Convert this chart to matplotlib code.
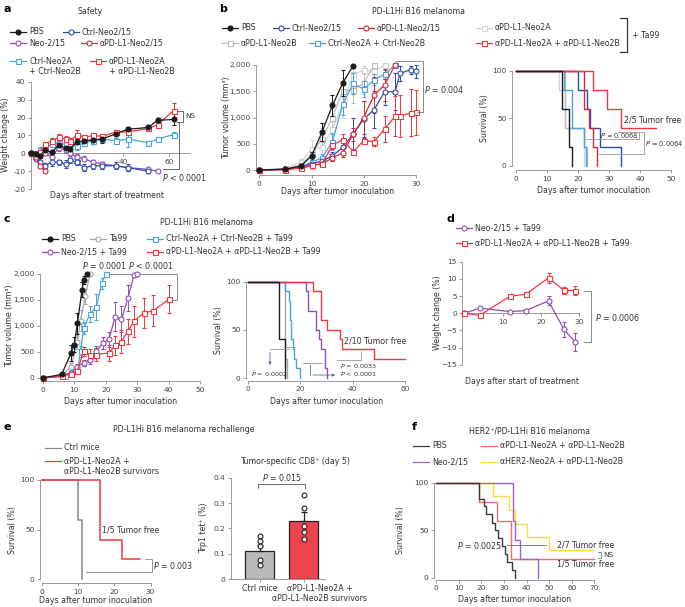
import matplotlib
matplotlib.use('Agg')
import matplotlib.pyplot as plt
from matplotlib.lines import Line2D
from matplotlib.ticker import FuncFormatter

plt.rcParams['font.family'] = ['DejaVu Sans']
plt.rcParams['mathtext.fontset'] = 'dejavusans'

W, H = 685, 607
FT = 5.3   # tick labels
FL = 5.7   # labels, legends, titles

BLACK = '#1c1c1c'
DBLUE = '#2f4ca6'
PURPLE = '#8f4fb3'
DRED = '#d22a36'
LBLUE = '#4aa3e0'
RED = '#f0373f'
LGRAY = '#d2d2d2'
GRAY = '#bcbcbc'
TAGRAY = '#a6a6a6'

# ---------------- panel a : weight change ----------------
a_days = [0, 2, 4, 6, 9, 12, 15, 17, 20, 23, 27, 31, 37, 42, 51, 55, 62]
a_pbs = [0, -0.5, -1.5, 2, 0.5, 4.5, 3, 2.5, 6.5, 7, 7.5, 8, 11, 13.5, 14.5, 18.5, 19]
a_pbs_e = [0.5, 1, 1, 1.5, 1, 1.5, 1.5, 1.5, 1.5, 1.5, 2, 2, 1, 1, 1, 1.5, 3]
a_pdab = [0, 0, 1, 5, 7, 9, 8, 7, 10.5, 9, 10, 9.5, 12, 12, 14, 16, 24]
a_pdab_e = [0.5, 1, 1, 1.5, 1.5, 2, 1.5, 1.5, 2.5, 1.5, 1.5, 1.5, 1, 1, 1, 1.5, 4.5]
a_ctrlab = [0, -1, 2, 3.5, 5, 6, 5, 6, 4, 6, 7, 8, 7, 8, 6, 8, 10.5]
a_ctrlab_e = [0.5, 1, 1.5, 1.5, 1.5, 2, 1.5, 1.5, 2, 1.5, 1.5, 1.5, 1.5, 4.5, 1, 1, 1.5]
a_neo = [0, -2, -1, 0, -2, 3, 2, 0, -2, -3, -5, -6, -7, -8, -9, -10]
a_neo_e = [0.5, 1, 1, 1, 1, 1.5, 1.5, 1.5, 1.5, 1.5, 1.5, 1, 1, 1, 1, 0.5]
a_ctrl215 = [0, -3, -5, -7, -5, -5, -6, -4, -5, -8, -7, -7, -7, -8, -10]
a_ctrl215_e = [0.5, 1, 1.5, 1.5, 2, 1.5, 2, 1.5, 1.5, 2, 2, 2, 2, 2, 1]
a_pd215 = [0, -2, -7, -10]
a_pd215_e = [0.5, 1, 1, 1]

# ---------------- panel b : tumor volume ----------------
b_pbs_d = [0, 5, 8, 10, 12, 14, 16, 18]
b_pbs = [0, 15, 80, 270, 720, 1230, 1660, 1990]
b_pbs_e = [0, 20, 40, 70, 170, 200, 250, 0]
b_n2a_d = [0, 5, 8, 10, 12, 14, 16, 18, 20, 22, 24]
b_n2a = [0, 30, 150, 400, 430, 780, 1250, 1820, 1900, 1880, 2000]
b_n2a_e = [0, 30, 60, 170, 200, 250, 250, 180, 80, 100, 0]
b_n2b_d = [0, 5, 8, 10, 12, 14, 16, 18, 20, 22]
b_n2b = [0, 20, 100, 300, 600, 1000, 1500, 1530, 1650, 2000]
b_n2b_e = [0, 20, 50, 100, 200, 300, 250, 260, 200, 0]
b_ctrlab_d = [0, 5, 8, 10, 12, 14, 16, 18, 20, 22, 24, 26]
b_ctrlab = [0, 20, 60, 150, 230, 540, 1250, 1650, 1540, 1720, 1820, 2000]
b_ctrlab_e = [0, 15, 30, 60, 80, 150, 200, 200, 150, 100, 80, 0]
b_ctrl215_d = [0, 5, 8, 10, 12, 14, 16, 18, 20, 22, 24, 26, 27, 29, 30]
b_ctrl215 = [0, 15, 50, 120, 170, 270, 430, 690, 970, 1150, 1490, 1490, 1840, 1910, 1880]
b_ctrl215_e = [0, 10, 20, 40, 60, 80, 150, 300, 350, 350, 250, 350, 150, 80, 120]
b_pd215_d = [0, 5, 8, 10, 12, 14, 16, 18, 20, 22, 24, 26]
b_pd215 = [0, 10, 40, 80, 120, 230, 330, 680, 1000, 1430, 1620, 2000]
b_pd215_e = [0, 10, 20, 30, 50, 60, 80, 120, 320, 350, 300, 0]
b_pdab_d = [0, 5, 8, 10, 12, 14, 16, 18, 20, 22, 24, 26, 27, 29, 30]
b_pdab = [0, 10, 40, 90, 120, 470, 580, 350, 560, 540, 780, 1020, 1020, 1090, 1100]
b_pdab_e = [0, 10, 20, 30, 40, 60, 100, 50, 50, 80, 250, 380, 400, 450, 430]

# ---------------- panel b : survival ----------------
bs_pbs_t, bs_pbs_s = [0, 15, 17, 18], [100, 60, 20, 0]
bs_n2a_t, bs_n2a_s = [0, 14, 16, 22], [100, 80, 40, 0]
bs_n2b_t, bs_n2b_s = [0, 16, 22, 23], [100, 40, 20, 0]
bs_ctrlab_t, bs_ctrlab_s = [0, 15.5, 18, 22, 22.5], [100, 80, 40, 20, 0]
bs_ctrl215_t, bs_ctrl215_s = [0, 20, 23, 24, 27, 34], [100, 80, 60, 40, 20, 0]
bs_pd215_t, bs_pd215_s = [0, 22, 23.5, 25, 26], [100, 60, 40, 20, 0]
bs_pdab_t, bs_pdab_s = [0, 25, 29.5, 34, 45], [100, 80, 60, 40, 40]

# ---------------- panel c : tumor volume ----------------
c_pbs_d = [0, 6, 9, 10, 11, 12.5, 13, 14]
c_pbs = [0, 70, 480, 640, 1050, 1700, 1880, 2000]
c_pbs_e = [0, 20, 150, 150, 200, 150, 80, 0]
c_ta_d = [0, 6, 9, 11, 12, 13.5, 15]
c_ta = [0, 40, 220, 700, 1100, 1570, 2000]
c_ta_e = [0, 20, 60, 150, 200, 150, 0]
c_ctrl_d = [0, 7, 11, 12, 13, 15, 17, 18.7, 20]
c_ctrl = [0, 30, 130, 510, 960, 1230, 1360, 1820, 2000]
c_ctrl_e = [0, 15, 40, 100, 120, 150, 250, 100, 0]
c_neo_d = [0, 6, 9, 11, 13, 15, 17, 19, 21, 23, 25, 27, 29, 30]
c_neo = [0, 50, 100, 220, 290, 350, 510, 670, 740, 1180, 1130, 1530, 1980, 2000]
c_neo_e = [0, 20, 30, 40, 60, 80, 100, 120, 150, 280, 250, 250, 0, 0]
c_pd_d = [0, 6, 9, 11, 13, 15, 17, 21, 23, 25, 27, 29, 32, 35, 40]
c_pd = [0, 30, 80, 140, 510, 450, 450, 480, 630, 700, 900, 1090, 1250, 1290, 1510]
c_pd_e = [0, 10, 20, 40, 80, 100, 120, 150, 180, 220, 240, 300, 280, 300, 270]

# ---------------- panel c : survival ----------------
cs_pbs_t, cs_pbs_s = [0, 12, 14], [100, 40, 0]
cs_ta_t, cs_ta_s = [0, 14, 15], [100, 20, 0]
cs_ctrl_t = [0, 14, 15.5, 16, 16.5, 17, 17.5, 18.5, 20]
cs_ctrl_s = [100, 90, 80, 60, 40, 30, 20, 10, 0]
cs_neo_t = [0, 22, 23, 26, 27, 28, 29.5, 30]
cs_neo_s = [100, 90, 70, 50, 40, 30, 10, 0]
cs_pd_t = [0, 25, 28, 30, 35, 36, 48, 60]
cs_pd_s = [100, 90, 60, 50, 40, 30, 20, 20]

# ---------------- panel d : weight change ----------------
d_days = [0, 4, 12, 16, 22, 26, 29]
d_neo = [0, 1.5, 0.5, 0.8, 3.6, -4.7, -8.4]
d_neo_e = [0.2, 0.3, 0.3, 0.4, 1.3, 2.3, 2.7]
d_pd = [0, -0.6, 5, 5.5, 10.3, 6.7, 6.6]
d_pd_e = [0.2, 0.3, 0.4, 0.8, 1.5, 1.0, 1.3]

# ---------------- panel e ----------------
es_ctrl_t, es_ctrl_s = [0, 10, 11], [100, 60, 0]
es_pd_t, es_pd_s = [0, 16, 22, 27], [100, 40, 20, 20]
e_groups = ['Ctrl mice', 'αPD-L1-Neo2A +\nαPD-L1-Neo2B survivors']
e_means = [0.11, 0.23]
e_sem = [0.025, 0.033]
e_ctrl_pts = [0.17, 0.15, 0.13, 0.075, 0.055]
e_pd_pts = [0.33, 0.28, 0.21, 0.185, 0.16]

# ---------------- panel f ----------------
fs_pbs_t = [0, 19, 21, 22, 24.5, 26, 27.5, 29, 30.5, 31.5, 33.5, 35]
fs_pbs_s = [100, 83, 75, 67, 58, 50, 42, 33, 25, 17, 8, 0]
fs_neo_t, fs_neo_s = [0, 34, 35, 37, 45], [100, 60, 40, 20, 0]
fs_pd_t, fs_pd_s = [0, 19, 27, 33, 70], [100, 80, 60, 20, 20]
fs_her_t = [0, 25, 32, 35, 40, 50, 70]
fs_her_s = [100, 86, 71, 57, 43, 29, 29]

fig = plt.figure(figsize=(6.85, 6.07), dpi=100)


def box(l, t, r, b):
    return fig.add_axes([l / W, 1 - b / H, (r - l) / W, (b - t) / H])


def ftext(x, y, s, **kw):
    kw.setdefault('fontsize', FL)
    kw.setdefault('color', '#333333')
    kw.setdefault('va', 'center')
    fig.text(x / W, 1 - y / H, s, **kw)


def fline(xs, ys, **kw):
    kw.setdefault('color', '#333333')
    kw.setdefault('lw', 0.9)
    fig.add_artist(Line2D([x / W for x in xs], [1 - y / H for y in ys],
                          transform=fig.transFigure, **kw))


def leg(x, y, color, marker, text, filled=False, L=16):
    fline([x, x + L], [y, y], color=color, lw=0.9)
    if marker:
        fig.add_artist(Line2D([(x + L / 2) / W], [1 - y / H], marker=marker, ms=3.6,
                              mfc=color if filled else 'white', mec=color, mew=0.8,
                              ls='none', transform=fig.transFigure))
    ftext(x + L + 3, y, text, linespacing=1.25)


def style(ax, xb, yb):
    for s in ['top', 'right']:
        ax.spines[s].set_visible(False)
    for s in ['left', 'bottom']:
        ax.spines[s].set_color('#8a8a8a')
        ax.spines[s].set_linewidth(0.6)
    ax.spines['bottom'].set_bounds(*xb)
    ax.spines['left'].set_bounds(*yb)
    ax.tick_params(length=2.5, width=0.6, color='#8a8a8a', labelsize=FT,
                   labelcolor='#444444', pad=1.5)
    ax.patch.set_alpha(0)


def curve(ax, d, v, e, c, m, filled=False, z=3):
    ax.errorbar(d, v, yerr=e, color=c, lw=0.9, marker=m, ms=3.6,
                mfc=c if filled else 'white', mec=c, mew=0.8, elinewidth=0.7,
                capsize=1.4, capthick=0.7, clip_on=False, zorder=z)


def surv(ax, t, s, c, lw=1.0, z=3):
    ax.step(t, s, where='post', color=c, lw=lw, clip_on=False, zorder=z)


def bracket(ax, xs, ys, c='#555555'):
    ax.plot(xs, ys, color=c, lw=0.6, clip_on=False, zorder=5)


thousands = FuncFormatter(lambda v, p: f'{int(v):,}')

# ======== a ========
ftext(3, 9, 'a', fontsize=8, fontweight='bold', color='black')
ftext(90, 11, 'Safety', ha='center')
leg(10, 32, BLACK, 'o', 'PBS', filled=True)
leg(63, 32, DBLUE, 'o', 'Ctrl-Neo2/15')
leg(10, 43, PURPLE, 'o', 'Neo-2/15')
leg(81, 43, DRED, 'o', 'αPD-L1-Neo2/15')
leg(10, 61, LBLUE, 's', 'Ctrl-Neo2A')
ftext(29, 71, '+ Ctrl-Neo2B')
leg(90, 61, RED, 's', 'αPD-L1-Neo2A')
ftext(109, 71, '+ αPD-L1-Neo2B')

ax = box(31, 82, 192, 189)
ax.set_xlim(0, 70)
ax.set_ylim(-20, 40)
style(ax, (0, 69), (-20, 40))
ax.spines['bottom'].set_position(('data', 0))
ax.set_xticks([20, 40, 60])
ax.set_yticks([-20, -10, 0, 10, 20, 30, 40])
ax.set_yticklabels(['-20', '-10', '0', '10', '20', '30', '40'])
curve(ax, a_days[:len(a_ctrlab)], a_ctrlab, a_ctrlab_e, LBLUE, 's')
curve(ax, a_days[:len(a_neo)], a_neo, a_neo_e, PURPLE, 'o')
curve(ax, a_days[:len(a_ctrl215)], a_ctrl215, a_ctrl215_e, DBLUE, 'o')
curve(ax, a_days[:len(a_pd215)], a_pd215, a_pd215_e, DRED, 'o')
curve(ax, a_days, a_pdab, a_pdab_e, RED, 's')
curve(ax, a_days, a_pbs, a_pbs_e, BLACK, 'o', filled=True)
bracket(ax, [63.5, 66, 66, 63.5], [24, 24, 17.5, 17.5])
ax.text(67, 20.8, 'NS', fontsize=FT, va='center', color='#333')
bracket(ax, [63.5, 64.5, 64.5, 57.5], [17.6, 17.6, -9, -9])
ax.text(57, -13.3, '$P$ < 0.0001', fontsize=FL, va='center', color='#333')
ftext(107, 195, 'Days after start of treatment', ha='center')
ftext(6, 135, 'Weight change (%)', ha='center', rotation=90)

# ======== b ========
ftext(219, 9, 'b', fontsize=8, fontweight='bold', color='black')
ftext(418, 12, 'PD-L1Hi B16 melanoma', ha='center')
leg(222, 28, BLACK, 'o', 'PBS', filled=True)
leg(273, 28, DBLUE, 'o', 'Ctrl-Neo2/15')
leg(358, 28, DRED, 'o', 'αPD-L1-Neo2/15')
leg(476, 28, LGRAY, 's', 'αPD-L1-Neo2A')
leg(222, 43, GRAY, 's', 'αPD-L1-Neo2B')
leg(309, 43, LBLUE, 's', 'Ctrl-Neo2A + Ctrl-Neo2B')
leg(476, 43, RED, 's', 'αPD-L1-Neo2A + αPD-L1-Neo2B')
fline([620, 627, 627, 620], [18, 18, 52, 52], color='#333', lw=0.9)
ftext(632, 35, '+ Ta99')

ax = box(256.2, 63.4, 421.1, 175.3)
ax.set_xlim(-0.6, 31)
ax.set_ylim(-100, 2030)
style(ax, (0, 30), (0, 2000))
ax.set_xticks([0, 10, 20, 30])
ax.set_yticks([0, 500, 1000, 1500, 2000])
ax.yaxis.set_major_formatter(thousands)
curve(ax, b_n2a_d, b_n2a, b_n2a_e, LGRAY, 's', z=2)
curve(ax, b_n2b_d, b_n2b, b_n2b_e, GRAY, 's', z=2)
curve(ax, b_ctrlab_d, b_ctrlab, b_ctrlab_e, LBLUE, 's')
curve(ax, b_ctrl215_d, b_ctrl215, b_ctrl215_e, DBLUE, 'o')
curve(ax, b_pd215_d, b_pd215, b_pd215_e, DRED, 'o')
curve(ax, b_pdab_d, b_pdab, b_pdab_e, RED, 's')
curve(ax, b_pbs_d, b_pbs, b_pbs_e, BLACK, 'o', filled=True)
bracket(ax, [26.2, 31.3, 31.3, 30.3], [2080, 2080, 1100, 1100], c='#777')
ax.text(31.6, 1540, '$P$ = 0.004', fontsize=FL, va='center', color='#333')
ftext(338, 192, 'Days after tumor inoculation', ha='center')
ftext(227, 118, 'Tumor volume (mm³)', ha='center', rotation=90)

ax = box(512, 69.1, 671.2, 170)
ax.set_xlim(-1.2, 50)
ax.set_ylim(-4.5, 102)
style(ax, (0, 50), (0, 100))
ax.set_xticks([0, 10, 20, 30, 40, 50])
ax.set_yticks([0, 50, 100])
surv(ax, bs_n2a_t, bs_n2a_s, LGRAY, z=2)
surv(ax, bs_n2b_t, bs_n2b_s, GRAY, z=2)
surv(ax, bs_ctrlab_t, bs_ctrlab_s, LBLUE)
surv(ax, bs_ctrl215_t, bs_ctrl215_s, DBLUE)
surv(ax, bs_pd215_t, bs_pd215_s, DRED)
surv(ax, bs_pdab_t, bs_pdab_s, RED)
surv(ax, bs_pbs_t, bs_pbs_s, BLACK)
bracket(ax, [22.3, 39.7, 39.7, 33], [28, 28, 36, 36], c='#999')
ax.text(27, 31.8, '$P$ = 0.0068', fontsize=4.8, va='center', color='#333')
bracket(ax, [26.9, 41.4, 41.4, 39.7], [12, 12, 36, 36], c='#999')
ax.text(41.7, 23, '$P$ = 0.0064', fontsize=4.8, va='center', color='#333')
ax.text(34.8, 48.5, '2/5 Tumor free', fontsize=FL, va='center', color='#333')
ftext(594, 190.5, 'Days after tumor inoculation', ha='center')
ftext(485, 118, 'Survival (%)', ha='center', rotation=90)

# ======== c ========
ftext(3, 219, 'c', fontsize=8, fontweight='bold', color='black')
ftext(206, 223, 'PD-L1Hi B16 melanoma', ha='center')
leg(42, 239, BLACK, 'o', 'PBS', filled=True)
leg(90, 239, TAGRAY, 'o', 'Ta99')
leg(147, 239, LBLUE, 's', 'Ctrl-Neo2A + Ctrl-Neo2B + Ta99')
leg(42, 252, PURPLE, 'o', 'Neo-2/15 + Ta99')
leg(147, 252, RED, 's', 'αPD-L1-Neo2A + αPD-L1-Neo2B + Ta99')

ax = box(40.2, 272.4, 203.4, 381.1)
ax.set_xlim(-0.8, 51)
ax.set_ylim(-60, 2030)
style(ax, (0, 50), (0, 2000))
ax.set_xticks([0, 10, 20, 30, 40, 50])
ax.set_yticks([0, 500, 1000, 1500, 2000])
ax.yaxis.set_major_formatter(thousands)
curve(ax, c_ta_d, c_ta, c_ta_e, TAGRAY, 'o', z=2)
curve(ax, c_ctrl_d, c_ctrl, c_ctrl_e, LBLUE, 's')
curve(ax, c_neo_d, c_neo, c_neo_e, PURPLE, 'o')
curve(ax, c_pd_d, c_pd, c_pd_e, RED, 's')
curve(ax, c_pbs_d, c_pbs, c_pbs_e, BLACK, 'o', filled=True)
bracket(ax, [21.3, 28.3], [2000, 2000], c='#777')
bracket(ax, [30.9, 42.5, 42.5, 41.5], [2000, 2000, 1500, 1500], c='#777')
ax.text(27, 2160, '$P$ = 0.0001 $P$ < 0.0001', fontsize=FL, va='center', ha='center', color='#333')
ftext(121, 401, 'Days after tumor inoculation', ha='center')
ftext(10, 326, 'Tumor volume (mm³)', ha='center', rotation=90)

ax = box(245.9, 279.8, 407.8, 380.9)
ax.set_xlim(-0.8, 61)
ax.set_ylim(-3, 102)
style(ax, (0, 60), (0, 100))
ax.set_xticks([0, 20, 40, 60])
ax.set_yticks([0, 50, 100])
surv(ax, cs_ta_t, cs_ta_s, TAGRAY, z=2)
surv(ax, cs_ctrl_t, cs_ctrl_s, LBLUE)
surv(ax, cs_neo_t, cs_neo_s, PURPLE)
surv(ax, cs_pd_t, cs_pd_s, RED)
surv(ax, cs_pbs_t, cs_pbs_s, BLACK)
bracket(ax, [8.4, 15.8], [29.8, 29.8], c='#999')
bracket(ax, [14.8, 17.9], [32.5, 32.5], c='#999')
ax.annotate('', xy=(8.4, 10.6), xytext=(8.4, 29.8),
            arrowprops=dict(arrowstyle='-|>', color='#5a6f9a', lw=0.6, mutation_scale=4))
ax.text(1.2, 4.2, '$P$ = 0.0002', fontsize=4.6, va='center', color='#333')
bracket(ax, [21.1, 28.1], [15.9, 15.9], c='#999')
bracket(ax, [33.9, 43.1, 43.1], [18.7, 18.7, 28.3], c='#999')
ax.text(35.1, 12.5, '$P$ = 0.0033', fontsize=4.6, va='center', color='#333')
ax.annotate('', xy=(34.4, 3.1), xytext=(23.7, 3.1),
            arrowprops=dict(arrowstyle='-|>', color='#5a6f9a', lw=0.6, mutation_scale=4))
bracket(ax, [23.7, 23.7], [13.5, 3.1], c='#5a6f9a')
ax.text(35.1, 4.2, '$P$ < 0.0001', fontsize=4.6, va='center', color='#333')
ax.text(36.5, 38.5, '2/10 Tumor free', fontsize=FL, va='center', color='#333')
ftext(326.5, 401, 'Days after tumor inoculation', ha='center')
ftext(218, 330, 'Survival (%)', ha='center', rotation=90)

# ======== d ========
ftext(447, 219, 'd', fontsize=8, fontweight='bold', color='black')
leg(456, 228, PURPLE, 'o', 'Neo-2/15 + Ta99')
leg(456, 243, RED, 's', 'αPD-L1-Neo2A + αPD-L1-Neo2B + Ta99')

ax = box(462.4, 260, 579.2, 366.6)
ax.set_xlim(-0.5, 30)
ax.set_ylim(-15.5, 15.5)
style(ax, (0, 30), (-15, 15))
ax.spines['bottom'].set_position(('data', 0))
ax.set_xticks([10, 20, 30])
ax.set_yticks([-15, -10, -5, 0, 5, 10, 15])
curve(ax, d_days, d_neo, d_neo_e, PURPLE, 'o')
curve(ax, d_days, d_pd, d_pd_e, RED, 's')
bracket(ax, [31.2, 33.1, 33.1, 31.2], [6.6, 6.6, -8.4, -8.4], c='#777')
ax.text(34.1, -1.1, '$P$ = 0.0006', fontsize=FL, va='center', color='#333')
ftext(521.7, 382, 'Days after start of treatment', ha='center')
ftext(437, 313, 'Weight change (%)', ha='center', rotation=90)

# ======== e ========
ftext(3, 427, 'e', fontsize=8, fontweight='bold', color='black')
ftext(184, 430, 'PD-L1Hi B16 melanoma rechallenge', ha='center')
leg(45, 448, '#8a8a8a', None, 'Ctrl mice')
leg(45, 461, RED, None, 'αPD-L1-Neo2A +')
ftext(64, 472, 'αPD-L1-Neo2B survivors')

ax = box(39.9, 478, 154.2, 583.3)
ax.set_xlim(-0.5, 31)
ax.set_ylim(-4, 102)
style(ax, (0, 30), (0, 100))
ax.set_xticks([0, 10, 20, 30])
ax.set_yticks([0, 50, 100])
surv(ax, es_ctrl_t, es_ctrl_s, '#8a8a8a', lw=1.1)
surv(ax, es_pd_t, es_pd_s, RED, lw=1.1)
bracket(ax, [28.6, 30.3, 30.3, 12.1], [20, 20, 7.7, 7.7], c='#888')
ax.text(30.7, 14.4, '$P$ = 0.003', fontsize=FL, va='center', color='#333')
ax.text(16.5, 49.6, '1/5 Tumor free', fontsize=FL, va='center', color='#333')
ftext(96, 600.5, 'Days after tumor inoculation', ha='center')
ftext(12, 530, 'Survival (%)', ha='center', rotation=90)

ftext(295, 461, 'Tumor-specific CD8⁺ (day 5)', ha='center')
ax = box(230.7, 472.6, 324.9, 579.3)
ax.set_xlim(-0.66, 1.48)
ax.set_ylim(0, 0.42)
style(ax, (-0.66, 1.48), (0, 0.4))
ax.set_yticks([0, 0.1, 0.2, 0.3, 0.4])
ax.set_yticklabels(['0', '0.1', '0.2', '0.3', '0.4'])
ax.bar([0, 1], e_means, width=0.65, color=['#b9b9b9', '#ee4450'],
       edgecolor='#222222', lw=0.9, zorder=2)
ax.errorbar([0, 1], e_means, yerr=[[0, 0], e_sem], fmt='none', ecolor='#222222',
            elinewidth=0.9, capsize=2.5, capthick=0.9, zorder=3)
ax.plot([0] * len(e_ctrl_pts), e_ctrl_pts, 'o', ms=3.5, mfc='white', mec='#222', mew=0.8, zorder=4)
ax.plot([1] * len(e_pd_pts), e_pd_pts, 'o', ms=3.5, mfc='white', mec='#222', mew=0.8, zorder=4)
ax.set_xticks([0, 1])
ax.set_xticklabels(['', ''])
ax.text(0, -0.035, e_groups[0], fontsize=FL, ha='center', va='center', color='#333')
ax.text(1.36, -0.035, e_groups[1].split('\n')[0], fontsize=FL, ha='center', va='center', color='#333')
ax.text(1.36, -0.075, e_groups[1].split('\n')[1], fontsize=FL, ha='center', va='center',
        color='#333', clip_on=False)
bracket(ax, [-0.05, -0.05, 1.02, 1.02], [0.36, 0.374, 0.374, 0.36], c='#555')
ax.text(0.5, 0.4, '$P$ = 0.015', fontsize=FL, ha='center', va='center', color='#333')
ftext(204, 528, 'Trp1 tet⁺ (%)', ha='center', rotation=90)

# ======== f ========
ftext(412, 427, 'f', fontsize=8, fontweight='bold', color='black')
ftext(529.5, 431, 'HER2⁺/PD-L1Hi B16 melanoma', ha='center')
leg(413, 446, '#3a3a3a', None, 'PBS')
leg(413, 462, '#9c62c4', None, 'Neo-2/15')
leg(481, 446, '#f46c6c', None, 'αPD-L1-Neo2A + αPD-L1-Neo2B')
leg(481, 462, '#f7df3c', None, 'αHER2-Neo2A + αPD-L1-Neo2B')

ax = box(434.1, 480.8, 596.5, 579.6)
ax.set_xlim(-1, 71)
ax.set_ylim(-2, 102)
style(ax, (0, 70), (0, 100))
ax.set_xticks([0, 10, 20, 30, 40, 50, 60, 70])
ax.set_yticks([0, 50, 100])
surv(ax, fs_her_t, fs_her_s, '#f7df3c')
surv(ax, fs_pd_t, fs_pd_s, '#f46c6c')
surv(ax, fs_neo_t, fs_neo_s, '#9c62c4')
surv(ax, fs_pbs_t, fs_pbs_s, '#3a3a3a')
bracket(ax, [31.2, 48.6], [34.4, 34.4], c='#666')
ax.text(29.1, 34.4, '$P$ = 0.0025', fontsize=FL, ha='right', va='center', color='#333')
ax.text(53.5, 34.4, '2/7 Tumor free', fontsize=FL, va='center', color='#333')
ax.text(53.5, 14.4, '1/5 Tumor free', fontsize=FL, va='center', color='#333')
bracket(ax, [71.5, 73, 73, 71.5], [27.4, 27.4, 21, 21], c='#777')
ax.text(74, 24.4, 'NS', fontsize=FT, va='center', color='#333')
ftext(515, 600, 'Days after tumor inoculation', ha='center')
ftext(401, 530, 'Survival (%)', ha='center', rotation=90)

fig.savefig('out.png', dpi=100)
